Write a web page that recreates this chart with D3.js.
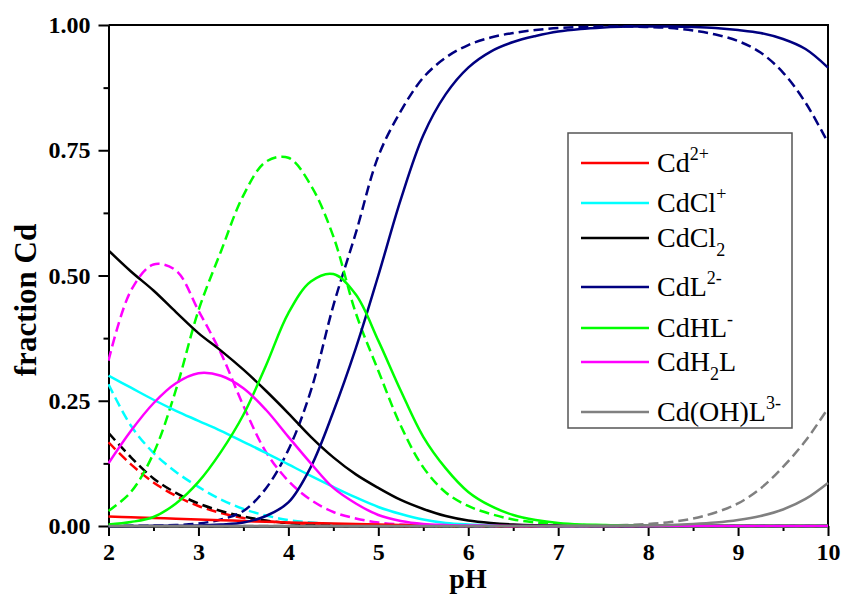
<!DOCTYPE html>
<html>
<head>
<meta charset="utf-8">
<script src="https://cdn.jsdelivr.net/npm/d3@7"></script>
<style>
  body { margin: 0; background: #fff; }
  text { font-family: "Liberation Serif", "Times New Roman", serif; }
</style>
</head>
<body>
<svg id="chart" width="841" height="594"></svg>
<script>
// pH grid the curves were read at
var pH = [2, 2.25, 2.5, 2.75, 3, 3.25, 3.5, 3.75, 4, 4.25, 4.5, 4.75, 5, 5.25, 5.5, 5.75,
          6, 6.25, 6.5, 6.75, 7, 7.25, 7.5, 7.75, 8, 8.25, 8.5, 8.75, 9, 9.25, 9.5, 9.75, 10];

// solid lines
var cd      = [0.019,0.0175,0.016,0.0145,0.013,0.0115,0.010,0.0085,0.007,0.006,0.005,0.004,0.003,0.002,0.0015,0.001,
               0.0005,0.0003,0.0002,0.0001,0,0,0,0,0,0,0,0,0,0,0,0,0];
var cdcl    = [0.300,0.276,0.252,0.230,0.210,0.190,0.168,0.146,0.123,0.100,0.078,0.057,0.038,0.024,0.013,0.006,
               0.003,0.0015,0.0007,0.0003,0,0,0,0,0,0,0,0,0,0,0,0,0];
var cdcl2   = [0.550,0.508,0.470,0.427,0.385,0.350,0.312,0.270,0.225,0.178,0.137,0.103,0.076,0.052,0.034,0.020,
               0.011,0.006,0.003,0.0015,0.001,0.0005,0,0,0,0,0,0,0,0,0,0,0];
var cdl     = [0,0,0.0003,0.0006,0.001,0.003,0.007,0.020,0.047,0.118,0.228,0.355,0.500,0.652,0.780,0.862,
               0.915,0.947,0.966,0.978,0.987,0.992,0.995,0.997,0.997,0.997,0.996,0.994,0.990,0.984,0.972,0.952,0.915];
var cdhl    = [0.003,0.008,0.018,0.045,0.088,0.148,0.222,0.320,0.425,0.488,0.503,0.462,0.370,0.270,0.178,0.115,
               0.068,0.040,0.022,0.012,0.006,0.003,0.002,0.001,0.0005,0,0,0,0,0,0,0,0];
var cdh2l   = [0.125,0.190,0.245,0.285,0.305,0.300,0.275,0.232,0.178,0.125,0.076,0.045,0.022,0.010,0.004,0.002,
               0.001,0.0005,0,0,0,0,0,0,0,0,0,0,0,0,0,0,0];
var cdohl   = [0,0,0,0,0,0,0,0,0,0,0,0,0,0,0,0,
               0,0,0,0,0,0,0,0.0003,0.001,0.002,0.004,0.007,0.012,0.020,0.033,0.054,0.086];

// dashed lines
var cdB     = [0.167,0.123,0.087,0.060,0.040,0.026,0.016,0.010,0.006,0.004,0.002,0.001,0.0005,0.0002,0.0001,0,
               0,0,0,0,0,0,0,0,0,0,0,0,0,0,0,0,0];
var cdclB   = [0.283,0.200,0.146,0.108,0.078,0.053,0.034,0.021,0.012,0.007,0.004,0.002,0.001,0.0005,0.0002,0,
               0,0,0,0,0,0,0,0,0,0,0,0,0,0,0,0,0];
var cdcl2B  = [0.186,0.137,0.095,0.066,0.045,0.030,0.019,0.011,0.006,0.004,0.002,0.001,0.0005,0.0002,0.0001,0,
               0,0,0,0,0,0,0,0,0,0,0,0,0,0,0,0,0];
var cdlB    = [0,0.0003,0.0008,0.002,0.005,0.013,0.030,0.075,0.152,0.270,0.440,0.585,0.738,0.828,0.895,0.935,
               0.960,0.975,0.984,0.990,0.994,0.996,0.997,0.997,0.996,0.994,0.989,0.981,0.968,0.945,0.905,0.845,0.765];
var cdhlB   = [0.030,0.068,0.145,0.272,0.430,0.548,0.660,0.727,0.735,0.680,0.578,0.425,0.310,0.200,0.117,0.067,
               0.040,0.024,0.013,0.007,0.004,0.002,0.001,0.0005,0,0,0,0,0,0,0,0,0];
var cdh2lB  = [0.330,0.470,0.522,0.510,0.430,0.345,0.240,0.148,0.090,0.052,0.028,0.015,0.007,0.003,0.001,0.0005,
               0,0,0,0,0,0,0,0,0,0,0,0,0,0,0,0,0];
var cdohlB  = [0,0,0,0,0,0,0,0,0,0,0,0,0,0,0,0,
               0,0,0,0,0,0.0003,0.001,0.002,0.004,0.008,0.015,0.027,0.045,0.075,0.118,0.170,0.235];

var xTicks = [2, 3, 4, 5, 6, 7, 8, 9, 10];
var yTicks = [0, 0.25, 0.5, 0.75, 1];

// legend labels: [text, "sup"|"sub"]
var labels = [
  [["Cd"], ["2+", "sup"]],
  [["CdCl"], ["+", "sup"]],
  [["CdCl"], ["2", "sub"]],
  [["CdL"], ["2-", "sup"]],
  [["CdHL"], ["-", "sup"]],
  [["CdH"], ["2", "sub"], ["L"]],
  [["Cd(OH)L"], ["3-", "sup"]]
];
var colors = ["#ff0000", "#00ffff", "#000000", "#000080", "#00ff00", "#ff00ff", "#808080"];
var solids = [cd, cdcl, cdcl2, cdl, cdhl, cdh2l, cdohl];
var dashes = [cdB, cdclB, cdcl2B, cdlB, cdhlB, cdh2lB, cdohlB];

var svg = d3.select("#chart");

var x = d3.scaleLinear().domain([2, 10]).range([108.5, 828]);
var y = d3.scaleLinear().domain([0, 1]).range([526, 25]);

// axes
svg.append("g").attr("transform", "translate(0,526)")
  .call(d3.axisBottom(x).tickValues(xTicks).tickFormat(d3.format("d"))
    .tickSize(10).tickSizeOuter(0).tickPadding(7));
svg.append("g").attr("transform", "translate(0,526)")
  .call(d3.axisBottom(x).tickValues(d3.range(2.5, 10, 1)).tickFormat("").tickSize(5).tickSizeOuter(0));

svg.append("g").attr("transform", "translate(108.5,0)")
  .call(d3.axisLeft(y).tickValues(yTicks).tickFormat(d3.format(".2f"))
    .tickSize(10).tickSizeOuter(0).tickPadding(8));
svg.append("g").attr("transform", "translate(108.5,0)")
  .call(d3.axisLeft(y).tickValues([0.125, 0.375, 0.625, 0.875]).tickFormat("").tickSize(5).tickSizeOuter(0));

svg.selectAll(".domain, .tick line").attr("stroke", "#000").attr("stroke-width", 2);
svg.selectAll(".tick text").attr("fill", "#000")
  .style("font-family", "'Liberation Serif', serif").style("font-weight", "bold").style("font-size", "24px");

// frame top + right
svg.append("path")
  .attr("d", "M" + x(2) + "," + y(1) + "H" + x(10) + "V" + y(0))
  .attr("fill", "none").attr("stroke", "#000").attr("stroke-width", 2);

// axis titles
svg.append("text")
  .attr("x", 468).attr("y", 588).attr("text-anchor", "middle")
  .style("font-weight", "bold").style("font-size", "28px")
  .text("pH");
svg.append("text")
  .attr("transform", "translate(36,300) rotate(-90)").attr("text-anchor", "middle")
  .style("font-weight", "bold").style("font-size", "31px")
  .text("fraction Cd");

// curves
svg.append("clipPath").attr("id", "clip")
  .append("rect").attr("x", 108).attr("y", 20).attr("width", 722).attr("height", 509);

var line = d3.line()
  .x(function(d, i) { return x(pH[i]); })
  .y(function(d) { return y(d); })
  .curve(d3.curveCatmullRom.alpha(0.5));

var plot = svg.append("g").attr("clip-path", "url(#clip)");

dashes.forEach(function(vals, k) {
  plot.append("path").datum(vals)
    .attr("d", line)
    .attr("fill", "none")
    .attr("stroke", colors[k])
    .attr("stroke-width", 2.5)
    .attr("stroke-dasharray", "10,5");
});
solids.forEach(function(vals, k) {
  plot.append("path").datum(vals)
    .attr("d", line)
    .attr("fill", "none")
    .attr("stroke", colors[k])
    .attr("stroke-width", 2.5);
});

// legend
var rowY = [163, 203, 238, 287, 328, 362, 412];
var legend = svg.append("g");
legend.append("rect")
  .attr("x", 568).attr("y", 133).attr("width", 224).attr("height", 295)
  .attr("fill", "#fff").attr("stroke", "#555").attr("stroke-width", 1.5);

labels.forEach(function(parts, k) {
  legend.append("line")
    .attr("x1", 581).attr("x2", 649).attr("y1", rowY[k]).attr("y2", rowY[k])
    .attr("stroke", colors[k]).attr("stroke-width", 2.5);

  var t = legend.append("text")
    .attr("x", 657).attr("y", rowY[k] + 9)
    .style("font-size", "28px");
  var shift = 0;
  parts.forEach(function(p) {
    var s = t.append("tspan").text(p[0]);
    var target = 0;
    if (p[1] == "sup") { target = -12; s.style("font-size", "18px"); }
    if (p[1] == "sub") { target = 9; s.style("font-size", "18px"); }
    s.attr("dy", target - shift);
    shift = target;
  });
});
</script>
</body>
</html>
